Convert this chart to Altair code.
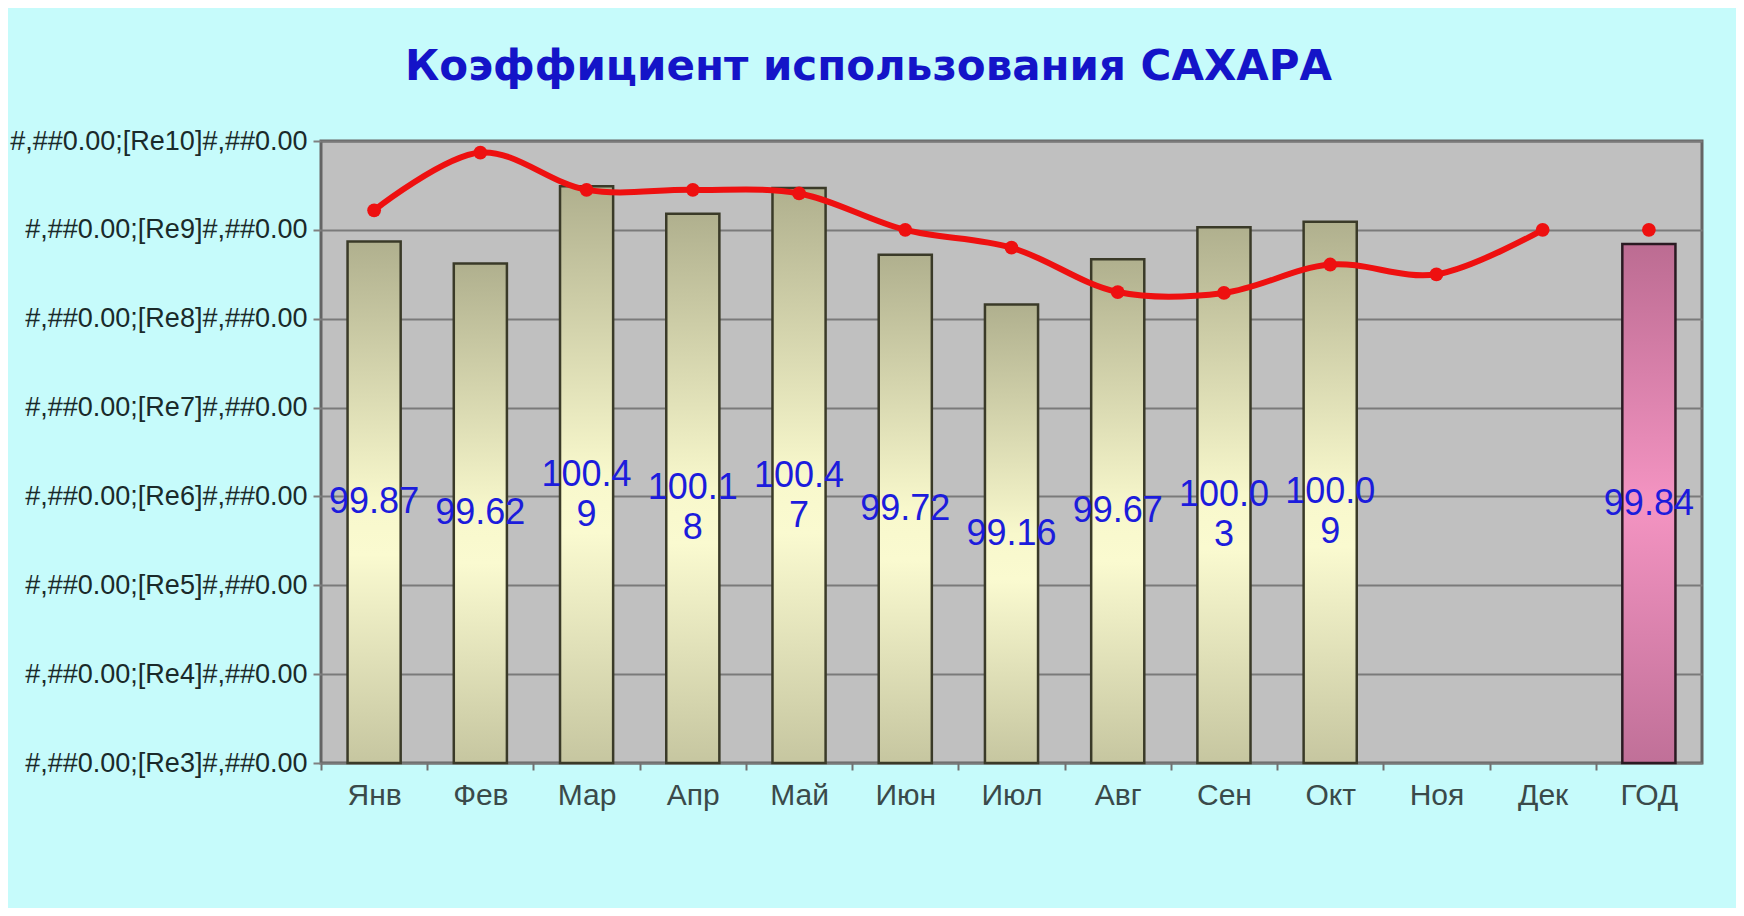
import altair as alt
import pandas as pd

months = ["Янв", "Фев", "Мар", "Апр", "Май", "Июн", "Июл", "Авг", "Сен", "Окт", "Ноя", "Дек", "ГОД"]
bar_values = [99.87, 99.62, 100.49, 100.18, 100.47, 99.72, 99.16, 99.67, 100.03, 100.09, None, None, 99.84]
line_values = [100.22, 100.87, 100.45, 100.45, 100.41, 100.0, 99.8, 99.3, 99.29, 99.61, 99.5, 100.0, 100.0]
y_ticks = [94, 95, 96, 97, 98, 99, 100, 101]
y_labels = ["#,##0.00;[Re3]#,##0.00", "#,##0.00;[Re4]#,##0.00", "#,##0.00;[Re5]#,##0.00",
            "#,##0.00;[Re6]#,##0.00", "#,##0.00;[Re7]#,##0.00", "#,##0.00;[Re8]#,##0.00",
            "#,##0.00;[Re9]#,##0.00", "#,##0.00;[Re10]#,##0.00"]

Y_MIN, Y_MAX = 94, 101

def wrap_label(v):
    s = f"{v:.2f}"
    return s if len(s) <= 5 else s[:5] + "\n" + s[5:]

df = pd.DataFrame({"month": months, "bar": bar_values, "line": line_values})
df["is_year"] = df["month"] == "ГОД"
df["label"] = [wrap_label(v) if v is not None and not pd.isna(v) else "" for v in df["bar"]]
df["mid"] = [(Y_MIN + v) / 2 if v is not None and not pd.isna(v) else None for v in df["bar"]]

label_expr = "{" + ",".join(f"'{t}': '{l}'" for t, l in zip(y_ticks, y_labels)) + "}[datum.value]"

x_enc = alt.X("month:N", sort=months, title=None,
              scale=alt.Scale(paddingInner=0.5, paddingOuter=0.25),
              axis=alt.Axis(labelAngle=0, labelFont="Liberation Sans", labelFontSize=30,
                            labelColor="#3a4a4a", labelPadding=10, tickOffset=-53.1,
                            labelOffset=53.1,
                            tickSize=7, tickColor="#707070", tickWidth=2,
                            domain=False, grid=False))
y_scale = alt.Scale(domain=[Y_MIN, Y_MAX], nice=False, zero=False)
y_enc = alt.Y("bar:Q", scale=y_scale, title=None,
              axis=alt.Axis(values=y_ticks, labelExpr=label_expr, labelFont="Liberation Sans",
                            labelFontSize=27, labelColor="#1a2a2a", labelPadding=6, labelLimit=0,
                            tickSize=8, tickColor="#808080", tickWidth=2,
                            gridColor="#7a7a7a", gridWidth=2, domain=False))

base = alt.Chart(df)

khaki = alt.Gradient(gradient="linear", x1=0, y1=0, x2=0, y2=1, stops=[
    alt.GradientStop(color="#b0b08e", offset=0),
    alt.GradientStop(color="#f8f8cc", offset=0.5),
    alt.GradientStop(color="#fafad0", offset=0.6),
    alt.GradientStop(color="#c6c6a0", offset=1)])
pink = alt.Gradient(gradient="linear", x1=0, y1=0, x2=0, y2=1, stops=[
    alt.GradientStop(color="#bc6c92", offset=0),
    alt.GradientStop(color="#f494c2", offset=0.5),
    alt.GradientStop(color="#c07098", offset=1)])

bars_m = base.transform_filter("!datum.is_year && datum.bar != null").mark_bar(
    color=khaki, stroke="#3a3a28", strokeWidth=2.5).encode(x=x_enc, y=y_enc, y2=alt.datum(Y_MIN))
bars_y = base.transform_filter("datum.is_year").mark_bar(
    color=pink, stroke="#2a1a22", strokeWidth=2.5).encode(x=x_enc, y=y_enc, y2=alt.datum(Y_MIN))

line = base.transform_filter("!datum.is_year").mark_line(
    color="#ee1010", strokeWidth=6, interpolate="catmull-rom").encode(
    x=alt.X("month:N", sort=months), y=alt.Y("line:Q", scale=y_scale))
points = base.mark_point(filled=True, color="#ee1010", size=190, opacity=1).encode(
    x=alt.X("month:N", sort=months), y=alt.Y("line:Q", scale=y_scale))

labels = base.transform_filter("datum.bar != null").mark_text(
    font="Liberation Sans", fontSize=36, color="#1c1cdc", baseline="middle",
    align="center", lineBreak="\n", lineHeight=40).encode(
    x=alt.X("month:N", sort=months), y=alt.Y("mid:Q", scale=y_scale), text="label:N")

chart = alt.layer(bars_m, bars_y, line, points, labels).properties(
    width=1381, height=622,
    title=alt.TitleParams("Коэффициент использования САХАРА", anchor="start", frame="group",
                          dx=84, font="DejaVu Sans", fontSize=42, fontWeight="bold",
                          color="#1414c8", baseline="alphabetic", offset=5),
    autosize=alt.AutoSizeParams(type="none"),
    padding={"left": 313, "top": 133, "right": 34, "bottom": 145},
    background="#c6fbfb",
).configure_view(fill="#c0c0c0", stroke="#646464", strokeWidth=3)

chart.save("out.html", embed_options={"renderer": "svg", "actions": False})
